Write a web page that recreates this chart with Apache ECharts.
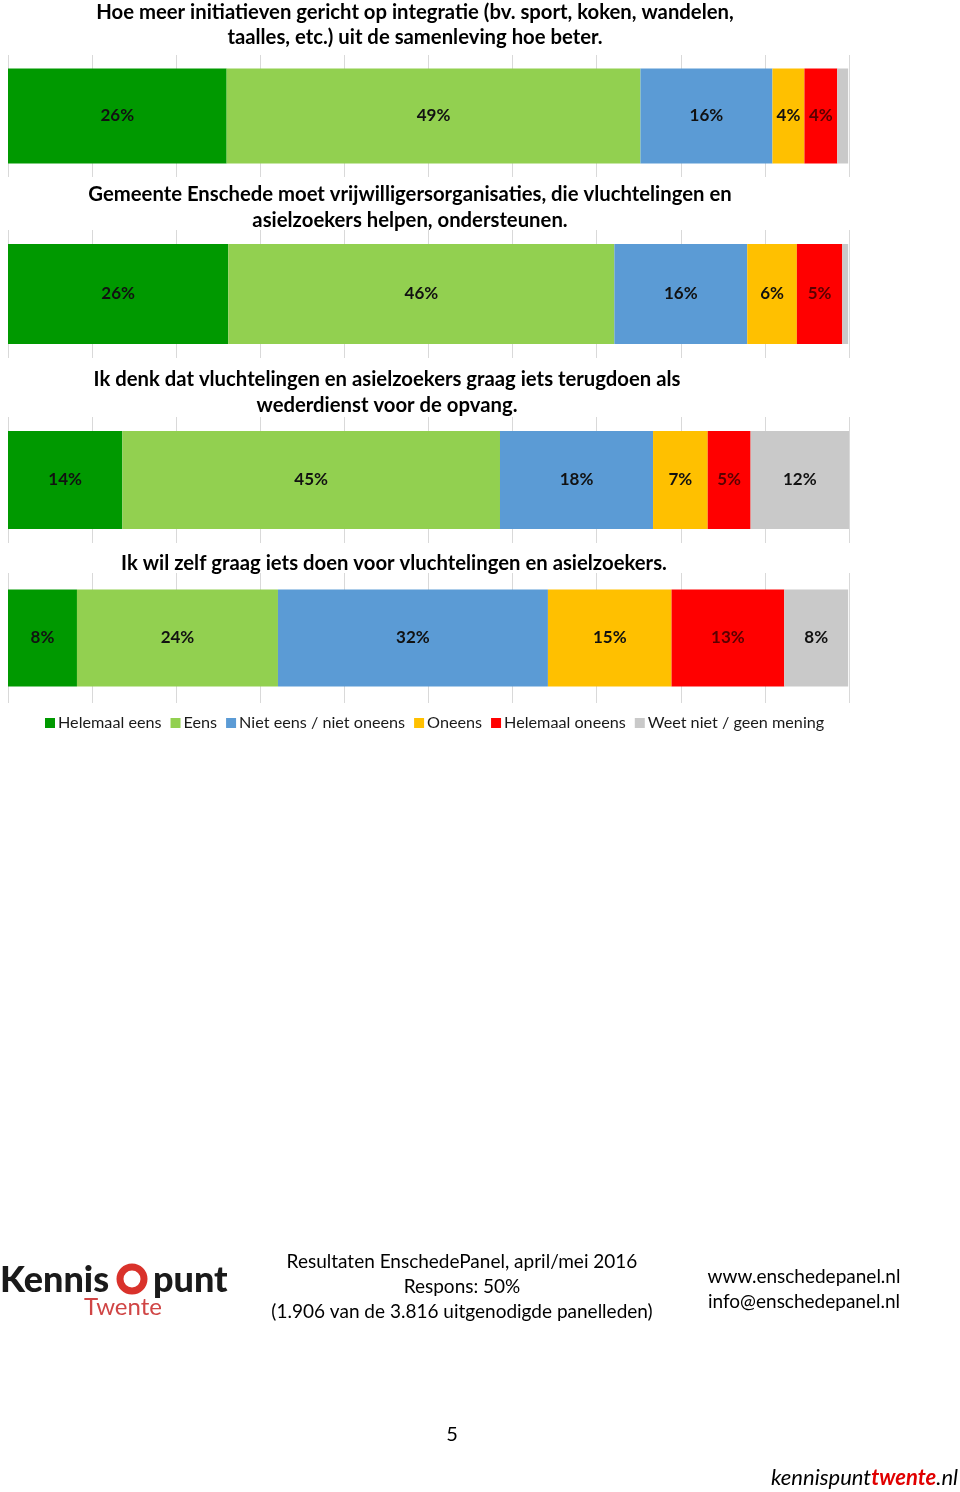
<!DOCTYPE html>
<html><head><meta charset="utf-8">
<script src="https://cdn.jsdelivr.net/npm/echarts@6/dist/echarts.min.js"></script>
<style>html,body{margin:0;padding:0;background:#fff}#c{width:960px;height:1492px}</style>
</head><body><div id="c"></div>
<script>
const titles = [
  "Hoe meer initiatieven gericht op integratie (bv. sport, koken, wandelen,\ntaalles, etc.) uit de samenleving hoe beter.",
  "Gemeente Enschede moet vrijwilligersorganisaties, die vluchtelingen en\nasielzoekers helpen, ondersteunen.",
  "Ik denk dat vluchtelingen en asielzoekers graag iets terugdoen als\nwederdienst voor de opvang.",
  "Ik wil zelf graag iets doen voor vluchtelingen en asielzoekers."
];
const categories = ["Helemaal eens","Eens","Niet eens / niet oneens","Oneens","Helemaal oneens","Weet niet / geen mening"];
const q1 = [26.0, 49.2, 15.7, 3.8, 3.9, 1.3];
const q2 = [26.2, 45.9, 15.8, 5.9, 5.4, 0.7];
const q3 = [13.6, 44.9, 18.2, 6.5, 5.1, 11.7];
const q4 = [8.2, 23.9, 32.1, 14.7, 13.4, 7.6];
const xTicks = [0,10,20,30,40,50,60,70,80,90,100];

const data = [q1,q2,q3,q4];
const colors = ['#009900','#92D050','#5B9BD5','#FFC000','#FF0000','#C9C9C9'];
const labelColors = ['#111','#111','#111','#111','#5a0000','#111'];
const grids = [
  {top:55, height:122, bw:95},
  {top:230, height:128, bw:100},
  {top:417, height:126, bw:98},
  {top:573, height:130, bw:97}
];
const titlePos = [
  {x:415, top:0, lh:25},
  {x:410, top:181, lh:26},
  {x:387, top:366, lh:26},
  {x:394, top:550, lh:26}
];
const FONT = 'Lato';
const option = {
  animation:false,
  textStyle:{fontFamily:FONT},
  title: titles.map((t,i)=>({text:t, left:titlePos[i].x, top:titlePos[i].top, textAlign:'center', padding:0,
    textStyle:{fontFamily:FONT, fontSize:20.3, fontWeight:'bold', color:'#000', lineHeight:titlePos[i].lh}})),
  grid: grids.map(g=>({left:8, width:841, top:g.top, height:g.height})),
  xAxis: grids.map((g,i)=>({type:'value', gridIndex:i, min:xTicks[0], max:xTicks[xTicks.length-1], interval:10,
    axisLabel:{show:false}, axisTick:{show:false}, axisLine:{show:false},
    splitLine:{show:true, lineStyle:{color:'#d9d9d9', width:1}}})),
  yAxis: grids.map((g,i)=>({type:'category', gridIndex:i, data:['q'+(i+1)], show:false})),
  legend:{top:710, left:40, itemWidth:10, itemHeight:10, itemGap:9, icon:'rect',
    textStyle:{fontFamily:FONT, fontSize:16.2, color:'#1a1a1a', padding:[0,0,0,-2]},
    data:categories},
  series: [],
  graphic: []
};
data.forEach((vals,gi)=>{
  vals.forEach((v,ci)=>{
    option.series.push({
      type:'bar', name:categories[ci], stack:'s'+gi, xAxisIndex:gi, yAxisIndex:gi,
      barWidth:grids[gi].bw, itemStyle:{color:colors[ci]},
      label:{show:true, position:'inside', fontFamily:FONT, fontSize:17, fontWeight:'bold', color:labelColors[ci],
        formatter:p=> p.value < 2 ? '' : Math.round(p.value)+'%'},
      data:[v]
    });
  });
});
const G = option.graphic;
function txt(x,y,text,opts){G.push({type:'text', x:x, y:y, style:Object.assign({text:text, fontFamily:FONT, fontSize:19, fill:'#000', textAlign:'center', textVerticalAlign:'middle'},opts||{})});}
// footer centre
txt(462,1262,'Resultaten EnschedePanel, april/mei 2016');
txt(462,1287,'Respons: 50%');
txt(462,1312,'(1.906 van de 3.816 uitgenodigde panelleden)');
txt(804,1277,'www.enschedepanel.nl');
txt(804,1302,'info@enschedepanel.nl');
// logo
txt(0,1280,'Kennis',{textAlign:'left', fontSize:36, fontWeight:900, fill:'#1a1a1a'});
G.push({type:'circle', shape:{cx:132, cy:1279, r:12}, style:{fill:'none', stroke:'#d9322b', lineWidth:7}});
txt(153,1280,'punt',{textAlign:'left', fontSize:36, fontWeight:900, fill:'#1a1a1a'});
txt(123,1307,'Twente',{fontSize:24, fill:'#d04545'});
// page number and url
txt(452,1435,'5',{fontSize:20});
G.push({type:'text', x:958, y:1478, style:{rich:{a:{fontFamily:FONT, fontSize:22, fontStyle:'italic', fill:'#000'}, b:{fontFamily:FONT, fontSize:22, fontStyle:'italic', fontWeight:'bold', fill:'#e00000'}},
  text:'{a|kennispunt}{b|twente}{a|.nl}', textAlign:'right', textVerticalAlign:'middle'}});
echarts.init(document.getElementById('c')).setOption(option);
</script></body></html>
